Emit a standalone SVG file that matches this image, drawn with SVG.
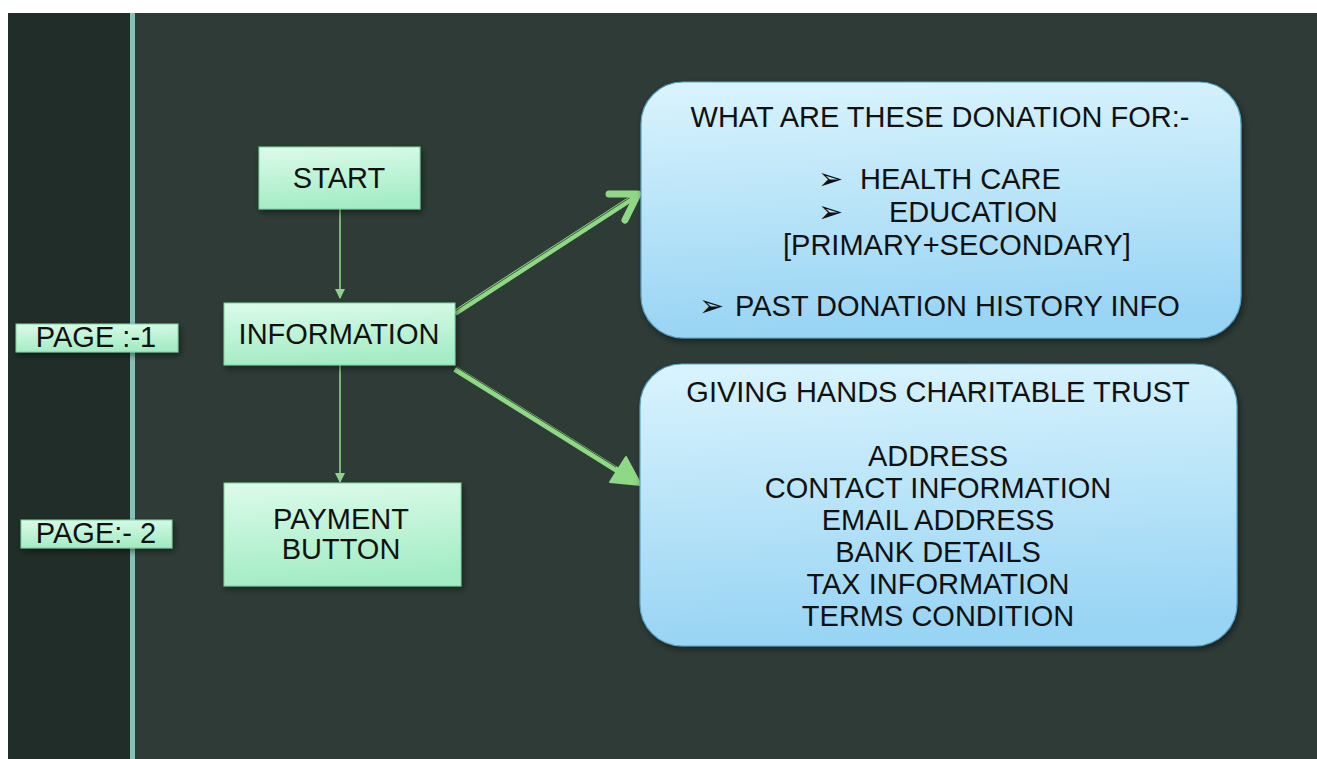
<svg xmlns="http://www.w3.org/2000/svg" width="1317" height="759" viewBox="0 0 1317 759">
  <defs>
    <linearGradient id="gGreen" x1="0" y1="0" x2="0.15" y2="1">
      <stop offset="0" stop-color="#dcfbea"/>
      <stop offset="1" stop-color="#a4ecc5"/>
    </linearGradient>
    <linearGradient id="gBlue" x1="0" y1="0" x2="0.1" y2="1">
      <stop offset="0" stop-color="#daf4fd"/>
      <stop offset="1" stop-color="#98d4f4"/>
    </linearGradient>
    <filter id="shadow" x="-10%" y="-10%" width="130%" height="140%">
      <feDropShadow dx="2" dy="3" stdDeviation="3" flood-color="#000" flood-opacity="0.45"/>
    </filter>
    <marker id="smallHead" markerWidth="10" markerHeight="10" refX="9" refY="5" orient="auto" markerUnits="userSpaceOnUse">
      <path d="M0,0 L10,5 L0,10 Z" fill="#8fd48a"/>
    </marker>
    <style>
      .gbox { fill: url(#gGreen); stroke: #7cd39d; stroke-width: 1; filter: url(#shadow); }
      .bbox { fill: url(#gBlue); stroke: #5aa3c4; stroke-width: 1.2; filter: url(#shadow); }
      .t { font-family: "Liberation Sans", Arial, sans-serif; font-size: 29px; fill: #111; }
      .c { text-anchor: middle; }
      .bul { font-family: "DejaVu Sans", sans-serif; font-size: 30px; }
      .thin { stroke: #8fd48a; stroke-width: 1.6; fill: none; }
      .big { stroke: #8fd885; stroke-width: 6; fill: none; stroke-linecap: butt; }
      .bigIn { stroke: #3b5438; stroke-width: 1; fill: none; }
    </style>
  </defs>

  <!-- background -->
  <rect x="0" y="0" width="1317" height="759" fill="#ffffff"/>
  <rect x="8" y="13" width="1309" height="746" fill="#2e3b36"/>
  <rect x="8" y="13" width="122" height="746" fill="#212d29"/>
  <rect x="130" y="13" width="5" height="746" fill="#88bfb6"/>

  <!-- connectors -->
  <g id="connectors">
    <line class="thin" x1="340" y1="209" x2="340" y2="298" marker-end="url(#smallHead)"/>
    <line class="thin" x1="340" y1="365" x2="340" y2="482" marker-end="url(#smallHead)"/>
    <!-- big arrow to top box -->
    <line class="big" x1="455" y1="313" x2="634" y2="197"/>
    <line class="bigIn" x1="455" y1="311" x2="630" y2="197.5"/>
    <polyline points="609,194 638,194 625,220" fill="none" stroke="#8fd885" stroke-width="7" stroke-linejoin="round" stroke-linecap="round"/>
    <!-- big arrow to bottom box -->
    <line class="big" x1="455" y1="369" x2="620" y2="472"/>
    <line class="bigIn" x1="456" y1="367" x2="616" y2="467"/>
    <path d="M641,485 L610,482 L626,457 Z" fill="#8fd885" stroke="#8fd885" stroke-width="2" stroke-linejoin="round"/>
  </g>

  <g id="page1">
    <rect class="gbox" x="16" y="324" width="162" height="28"/>
    <text class="t c" x="96" y="347">PAGE :-1</text>
  </g>
  <g id="page2">
    <rect class="gbox" x="21" y="520" width="151" height="28"/>
    <text class="t c" x="96" y="543">PAGE:- 2</text>
  </g>

  <g id="start">
    <rect class="gbox" x="259" y="147" width="161" height="62"/>
    <text class="t c" x="339" y="188">START</text>
  </g>
  <g id="information">
    <rect class="gbox" x="224" y="303" width="231" height="62"/>
    <text class="t c" x="339" y="344">INFORMATION</text>
  </g>
  <g id="payment">
    <rect class="gbox" x="224" y="483" width="237" height="103"/>
    <text class="t c" x="341" y="529">PAYMENT</text>
    <text class="t c" x="341" y="559">BUTTON</text>
  </g>

  <g id="donations">
    <rect class="bbox" x="641" y="82" width="600" height="256" rx="42" ry="42"/>
    <text class="t c" x="940" y="127">WHAT ARE THESE DONATION FOR:-</text>
    <text class="t"><tspan class="bul" x="818" y="189">➢</tspan><tspan x="860" y="189">HEALTH CARE</tspan></text>
    <text class="t"><tspan class="bul" x="818" y="222">➢</tspan><tspan x="889" y="222">EDUCATION</tspan></text>
    <text class="t" x="783" y="255">[PRIMARY+SECONDARY]</text>
    <text class="t"><tspan class="bul" x="699" y="316">➢</tspan><tspan x="735" y="316">PAST DONATION HISTORY INFO</tspan></text>
  </g>

  <g id="trust">
    <rect class="bbox" x="640" y="364" width="597" height="282" rx="42" ry="42"/>
    <text class="t c" x="938" y="402">GIVING HANDS CHARITABLE TRUST</text>
    <text class="t c" x="938" y="466">ADDRESS</text>
    <text class="t c" x="938" y="498">CONTACT INFORMATION</text>
    <text class="t c" x="938" y="530">EMAIL ADDRESS</text>
    <text class="t c" x="938" y="562">BANK DETAILS</text>
    <text class="t c" x="938" y="594">TAX INFORMATION</text>
    <text class="t c" x="938" y="626">TERMS CONDITION</text>
  </g>
</svg>
